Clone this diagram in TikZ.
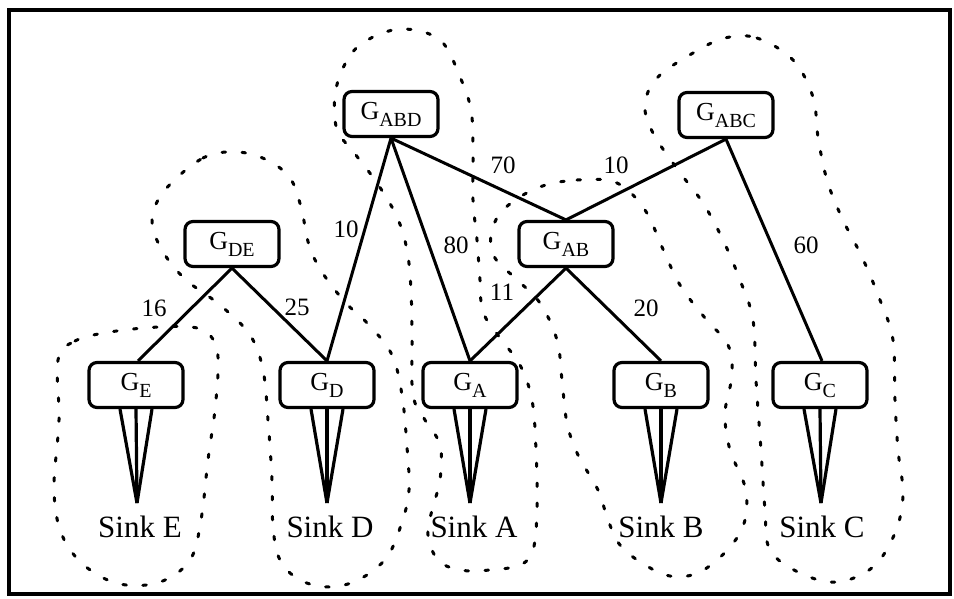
\documentclass[tikz,border=0pt]{standalone}
\usepackage{fontspec}
\setmainfont{Liberation Serif}
\newcommand{\Gsb}[1]{G\raisebox{-7pt}{\fontsize{20}{20}\selectfont #1}}
\begin{document}
\begin{tikzpicture}[x=1pt,y=-1pt,
  gbox/.style={draw, line width=3.2pt, rounded corners=8pt, minimum width=94pt, minimum height=45pt, inner sep=0pt, font=\fontsize{26}{30}\selectfont},
  edge/.style={line width=3pt},
  funnel/.style={line width=3.2pt},
  lbl/.style={font=\fontsize{25}{28}\selectfont, inner sep=0pt},
  sinklbl/.style={font=\fontsize{31}{34}\selectfont, inner sep=0pt, anchor=base},
  grp/.style={line width=3pt, dash pattern=on 3.5pt off 16.5pt, line cap=round}]
\useasboundingbox (0,0) rectangle (954,598);
\draw[line width=3.5pt] (9,10) rectangle (950,594);

% group outlines
\draw[grp] plot[smooth cycle, tension=0.6] coordinates {(58,360) (75,341) (110,332) (160,327) (200,329) (217,350) (216,400) (208,460) (201,520) (190,560) (160,582) (120,584) (85,566) (62,535) (54,490) (59,420)};
\draw[grp] plot[smooth cycle, tension=0.6] coordinates {(165,190) (203,158) (237,152) (267,160) (290,178) (301,207) (309,245) (322,272) (345,302) (370,326) (392,355) (402,395) (407,447) (409,490) (402,522) (387,557) (360,579) (330,587) (300,580) (280,560) (273,527) (272,480) (268,420) (263,370) (250,335) (220,305) (185,279) (162,250) (152,220)};
\draw[grp] plot[smooth cycle, tension=0.6] coordinates {(364,42) (345,64) (335,95) (337,130) (352,150) (377,183) (397,217) (407,250) (411,290) (412,340) (413,395) (425,420) (440,445) (440,480) (432,510) (428,535) (438,560) (460,570) (490,570) (520,565) (533,550) (537,510) (536,450) (532,400) (520,365) (500,338) (483,312) (480,280) (477,240) (473,200) (473,150) (471,110) (460,77) (440,40) (401,29)};
\draw[grp] plot[smooth cycle, tension=0.6] coordinates {(537,188) (577,180) (617,183) (645,210) (662,247) (680,285) (705,318) (728,345) (732,375) (725,413) (730,450) (745,487) (745,520) (730,547) (700,572) (670,576) (642,563) (620,545) (608,520) (598,490) (578,455) (567,423) (562,380) (557,340) (540,303) (515,278) (495,258) (491,235) (503,210)};
\draw[grp] plot[smooth cycle, tension=0.6] coordinates {(725,38) (757,38) (793,60) (813,97) (818,137) (827,180) (842,218) (862,257) (880,300) (893,340) (895,400) (898,450) (903,495) (895,533) (873,567) (837,582) (800,573) (770,550) (765,510) (761,450) (756,380) (753,320) (740,280) (723,240) (703,203) (678,170) (653,133) (645,105) (657,78) (693,53)};

% nodes
\node[gbox, fill=white] (ABD) at (391,114) {\Gsb{ABD}};
\node[gbox, fill=white] (ABC) at (726,115) {\Gsb{ABC}};
\node[gbox, fill=white] (DE) at (232,244) {\Gsb{DE}};
\node[gbox, fill=white] (AB) at (566,244) {\Gsb{AB}};
\node[gbox, fill=white] (E) at (136,385) {\Gsb{E}};
\node[gbox, fill=white] (D) at (327,385) {\Gsb{D}};
\node[gbox, fill=white] (A) at (470,385) {\Gsb{A}};
\node[gbox, fill=white] (B) at (661,385) {\Gsb{B}};
\node[gbox, fill=white] (C) at (820,385) {\Gsb{C}};

% edges
\draw[edge] (ABD.south) -- (D.north);
\draw[edge] (ABD.south) -- (A.north);
\draw[edge] (ABD.south) -- (AB.north);
\draw[edge] (ABC.south) -- (AB.north);
\draw[edge] (ABC.south) -- ([xshift=2pt]C.north);
\draw[edge] (DE.south) -- ([xshift=2pt]E.north);
\draw[edge] (DE.south) -- (D.north);
\draw[edge] (AB.south) -- (A.north);
\draw[edge] (AB.south) -- (B.north);

% edge labels
\node[lbl] (l1) at (346,229) {10};
\node[lbl] (l2) at (456,245) {80};
\node[lbl] (l3) at (503,165) {70};
\node[lbl] (l4) at (616,165) {10};
\node[lbl] (l5) at (806,245) {60};
\node[lbl] (l6) at (154,308) {16};
\node[lbl] (l7) at (297,307) {25};
\node[lbl] (l8) at (502,292) {11};
\node[lbl] (l9) at (646,308) {20};

% funnels
\foreach \n/\tx in {E/137, D/327, A/470, B/661, C/821} {
  \coordinate (t\n) at (\tx,503);
  \draw[funnel] ([xshift=-16pt]\n.south) -- (t\n);
  \draw[funnel] (\n.south) -- (t\n);
  \draw[funnel] ([xshift=16pt]\n.south) -- (t\n);
}

% sink labels
\node[sinklbl] (sE) at (140,537) {Sink E};
\node[sinklbl] (sD) at (330,537) {Sink D};
\node[sinklbl] (sA) at (474,537) {Sink A};
\node[sinklbl] (sB) at (661,537) {Sink B};
\node[sinklbl] (sC) at (822,537) {Sink C};
\end{tikzpicture}
\end{document}
